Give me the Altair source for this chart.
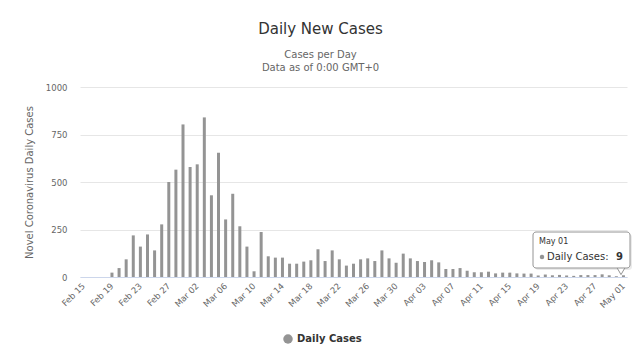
import altair as alt
import pandas as pd

# ---- data ----
dates = pd.date_range("2020-02-15", "2020-05-01", freq="D")
day_labels = [d.strftime("%b %d") for d in dates]

daily_cases = [
    # Feb 15 - Feb 29
    0, 0, 0, 0, 23, 47, 93, 219, 160, 224, 140, 277, 500, 565, 803,
    # Mar 01 - Mar 31
    579, 593, 840, 430, 654, 303, 438, 267, 160, 30, 237, 109, 102, 102, 70,
    70, 81, 88, 146, 84, 140, 93, 60, 70, 93, 98, 84, 140, 98, 75, 123,
    # Apr 01 - Apr 30
    98, 84, 79, 88, 77, 42, 42, 47, 33, 25, 25, 28, 19, 23, 23,
    19, 18, 18, 8, 13, 9, 11, 8, 6, 10, 10, 10, 14, 9, 4,
    # May 01
    9,
]
tick_labels = day_labels[::4]
y_ticks = [0, 250, 500, 750, 1000]
series_name = "Daily Cases"

tooltip_date = ["May 01"]
tooltip_value = ["9"]

FONT = "DejaVu Sans"
GREY = "#949494"

df = pd.DataFrame({"day": day_labels, "cases": daily_cases, "series": series_name})

bars = alt.Chart(df).mark_bar(size=3).encode(
    x=alt.X(
        "day:O",
        sort=day_labels,
        scale=alt.Scale(paddingInner=0.5, paddingOuter=0.25),
        axis=alt.Axis(
            values=tick_labels,
            labelAngle=-45,
            labelAlign="right",
            labelBaseline="middle",
            labelPadding=7,
            labelFontSize=8.5,
            labelFont=FONT,
            labelColor="#666666",
            labelOverlap=False,
            ticks=False,
            grid=False,
            domainColor="#ccd6eb",
            domainWidth=1,
            title=None,
        ),
    ),
    y=alt.Y(
        "cases:Q",
        scale=alt.Scale(domain=[0, 1000], nice=False),
        axis=alt.Axis(
            values=y_ticks,
            format="d",
            grid=True,
            gridColor="#e6e6e6",
            domain=False,
            ticks=False,
            labelPadding=13,
            labelFontSize=8.5,
            labelFont=FONT,
            labelColor="#666666",
            title="Novel Coronavirus Daily Cases",
            titleFont=FONT,
            titleFontSize=10,
            titleFontWeight="normal",
            titleColor="#666666",
            titleX=-51,
            titleY=95,
            titleAngle=-90,
            titleAlign="center",
            titleBaseline="middle",
        ),
    ),
    color=alt.Color(
        "series:N",
        scale=alt.Scale(range=[GREY]),
        legend=alt.Legend(
            title=None,
            orient="none",
            legendX=203,
            legendY=247,
            symbolType="circle",
            symbolSize=90,
            symbolStrokeWidth=0,
            labelFont=FONT,
            labelFontSize=10,
            labelFontWeight="bold",
            labelColor="#333333",
            padding=0,
        ),
    ),
)

# ---- static tooltip annotation (as in the reference screenshot) ----
one = pd.DataFrame({"d": tooltip_date, "v": tooltip_value})

shadow = alt.Chart(one).mark_rect(fill="#000000", opacity=0.08, cornerRadius=3).encode(
    x=alt.value(455), x2=alt.value(552), y=alt.value(147), y2=alt.value(183)
)
pointer = alt.Chart(one).mark_point(
    shape="triangle-down", filled=True, fill="#ffffff", stroke=GREY, strokeWidth=1, size=70, opacity=1
).encode(x=alt.value(541), y=alt.value(184))
box = alt.Chart(one).mark_rect(
    fill="#ffffff", fillOpacity=0.96, stroke=GREY, strokeWidth=1, cornerRadius=3
).encode(x=alt.value(453), x2=alt.value(550), y=alt.value(145), y2=alt.value(181))
t_date = alt.Chart(one).mark_text(
    align="left", baseline="middle", font=FONT, fontSize=8, color="#333333"
).encode(x=alt.value(459), y=alt.value(155), text="d:N")
t_dot = alt.Chart(one).mark_point(filled=True, color=GREY, size=20, opacity=1).encode(
    x=alt.value(462), y=alt.value(170)
)
t_label = alt.Chart(one).mark_text(
    align="left", baseline="middle", font=FONT, fontSize=10, color="#333333"
).encode(x=alt.value(467), y=alt.value(170), text=alt.value(series_name + ":"))
t_val = alt.Chart(one).mark_text(
    align="right", baseline="middle", font=FONT, fontSize=10, fontWeight="bold", color="#333333"
).encode(x=alt.value(543), y=alt.value(170), text="v:N")

chart = alt.layer(bars, shadow, pointer, box, t_date, t_dot, t_label, t_val).properties(
    width=547,
    height=190,
    autosize=alt.AutoSizeParams(type="none"),
    padding={"left": 72, "top": 79, "right": 5, "bottom": 75},
    title=alt.TitleParams(
        "Daily New Cases",
        subtitle=["Cases per Day", "Data as of 0:00 GMT+0"],
        anchor="middle",
        dx=-33,
        font=FONT,
        fontSize=15,
        fontWeight="normal",
        color="#333333",
        subtitleFont=FONT,
        subtitleFontSize=10,
        subtitleColor="#666666",
        subtitlePadding=13,
        subtitleLineHeight=13,
        offset=10,
    ),
).configure(background="#ffffff").configure_view(stroke=None)

chart.save("out.html", embed_options={"renderer": "svg", "actions": False})
